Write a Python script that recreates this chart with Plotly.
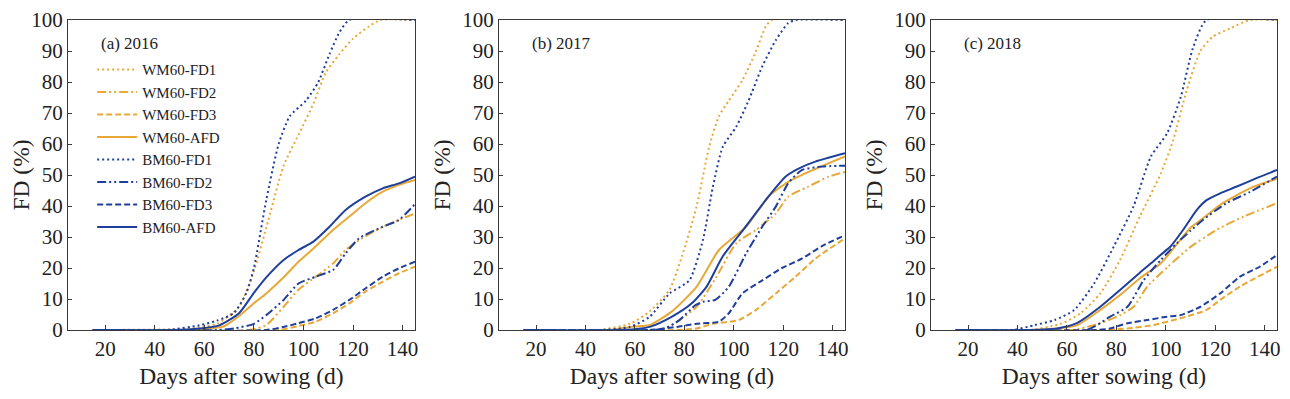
import plotly.graph_objects as go

# ---------------- data ----------------
SERIES = ["WM60-FD1", "WM60-FD2", "WM60-FD3", "WM60-AFD",
          "BM60-FD1", "BM60-FD2", "BM60-FD3", "BM60-AFD"]
PANEL_LABELS = ["(a) 2016", "(b) 2017", "(c) 2018"]
X_TICKS = [20, 40, 60, 80, 100, 120, 140]
Y_TICKS = [0, 10, 20, 30, 40, 50, 60, 70, 80, 90, 100]

# Panel (a) 2016
A_WM_FD1_X = [15, 55, 65, 74, 80, 85, 92, 98, 104, 109, 114.5, 120, 126.5, 131, 145]
A_WM_FD1_Y = [0, 0.5, 2, 7.5, 19, 33, 53, 63, 73, 83, 89, 94, 98, 100, 100]
A_WM_FD2_X = [15, 78, 85, 92, 98, 105, 112, 117, 122.5, 132, 138.5, 145]
A_WM_FD2_Y = [0, 0, 1.6, 7.5, 13, 17.2, 21.5, 25.8, 29, 33.3, 35.5, 37.6]
A_WM_FD3_X = [15, 90, 98, 105, 112, 118.5, 125, 132, 138.5, 145]
A_WM_FD3_Y = [0, 0, 1.3, 2.7, 5.4, 8.6, 12.4, 15.6, 18.3, 20.4]
A_WM_AFD_X = [15, 50, 62, 68, 74, 80, 85, 92, 98, 105, 112, 118.5, 125, 132, 138.5, 145]
A_WM_AFD_Y = [0, 0, 0.5, 1.2, 4.5, 8.6, 11.8, 17, 22, 27, 32.3, 36.6, 40.9, 44.6, 46.8, 48.4]
A_BM_FD1_X = [15, 45, 58, 65, 72, 77, 80, 85, 90, 94.5, 101, 106, 110.5, 114.5, 118.5, 145]
A_BM_FD1_Y = [0, 0, 1.5, 3, 5.5, 12, 20, 42, 60, 69, 74, 80, 89, 96, 100, 100]
A_BM_FD2_X = [15, 65, 72, 80, 85, 92, 98, 105, 112, 117, 122.5, 132, 138.5, 145]
A_BM_FD2_Y = [0, 0, 0.5, 2, 4.8, 9.7, 15, 17.2, 19.4, 24.7, 29.6, 33.3, 35.5, 40.6]
A_BM_FD3_X = [15, 85, 92, 98, 105, 112, 118.5, 125, 132, 138.5, 145]
A_BM_FD3_Y = [0, 0, 1, 2.2, 3.8, 6.5, 9.7, 13.4, 17.2, 19.9, 22]
A_BM_AFD_X = [15, 48, 58, 66, 74, 80, 85, 92, 98, 104, 110.5, 117, 125, 132, 138.5, 145]
A_BM_AFD_Y = [0, 0, 0.5, 1.5, 5.4, 12, 17, 22.6, 25.8, 28.5, 33.3, 38.7, 43, 45.7, 47.3, 49.5]

# Panel (b) 2017
B_WM_FD1_X = [15, 45, 58, 66, 74, 79, 85, 90, 94, 98, 103.5, 109, 113, 115.5, 145]
B_WM_FD1_Y = [0, 0, 2, 6, 13, 23.7, 40, 59, 69, 74, 80.6, 90, 98, 100, 100]
B_WM_FD2_X = [15, 71, 78, 85, 93, 101, 109, 117, 122, 130, 138.5, 145]
B_WM_FD2_Y = [0, 0, 3.2, 7.5, 17.2, 28, 32.3, 37.6, 43, 46.2, 49.5, 51]
B_WM_FD3_X = [15, 76, 85, 91.5, 102, 109, 117, 125, 133, 145]
B_WM_FD3_Y = [0, 0, 0.5, 2, 3.2, 6.5, 11.8, 17.2, 23, 29.6]
B_WM_AFD_X = [15, 50, 58, 66, 75, 85, 94, 105, 114, 122, 132, 145]
B_WM_AFD_Y = [0, 0, 1, 1.6, 6, 14, 25.8, 33.3, 43, 47.8, 51.6, 56]
B_BM_FD1_X = [15, 47, 58, 66, 74, 82, 87.5, 91.5, 95.5, 101, 106, 111.5, 117, 122, 125, 145]
B_BM_FD1_Y = [0, 0, 1, 4.3, 11.8, 16, 29, 46, 59, 65.6, 74, 85, 93.5, 99, 100, 100]
B_BM_FD2_X = [15, 66, 72, 78, 84.5, 88, 92.5, 98, 105, 111.5, 117, 122, 127.5, 135.5, 145]
B_BM_FD2_Y = [0, 0, 0.5, 3.2, 8, 9.2, 9.7, 14, 24.7, 33.3, 39.8, 47.3, 51.6, 52.7, 53]
B_BM_FD3_X = [15, 66, 77, 85, 94, 98, 103.5, 111.5, 119.5, 127.5, 135.5, 145]
B_BM_FD3_Y = [0, 0, 1, 2, 2.7, 5.4, 11.8, 16, 20, 23, 27, 30.6]
B_BM_AFD_X = [15, 55, 66, 75, 83, 89, 95.5, 103.5, 114, 121, 126, 133, 145]
B_BM_AFD_Y = [0, 0, 1, 4.3, 8.6, 14, 23.7, 32, 43, 49.5, 52, 54.3, 57]

# Panel (c) 2018
C_WM_FD1_X = [15, 45, 57.5, 65.5, 73.5, 81.5, 89.5, 98, 103, 108.5, 114, 119, 126, 134, 145]
C_WM_FD1_Y = [0, 0, 2, 5.4, 11.8, 22.6, 36.6, 50.5, 61.3, 77.4, 90, 94.6, 97.3, 100, 100]
C_WM_FD2_X = [15, 62, 73.5, 81.5, 87, 92.5, 101, 109.5, 120.5, 131.5, 145]
C_WM_FD2_Y = [0, 0, 2.2, 4.8, 7.5, 14, 20.5, 26.5, 32.3, 36.6, 40.9]
C_WM_FD3_X = [15, 72, 84.5, 95, 106, 116.5, 122, 130, 145]
C_WM_FD3_Y = [0, 0, 0.5, 1.6, 3.8, 6.5, 9.7, 14, 20.4]
C_WM_AFD_X = [15, 45, 56, 64, 73.5, 81.5, 89.5, 98, 105.5, 110, 115, 123, 134, 145]
C_WM_AFD_Y = [0, 0, 0.5, 1.5, 6.5, 11.3, 16.7, 21.5, 28.7, 33, 36, 40.9, 45.7, 48.8]
C_BM_FD1_X = [15, 38, 47, 55, 63, 71, 79, 87, 94, 100.5, 106, 111, 116.5, 145]
C_BM_FD1_Y = [0, 0, 1.6, 3.2, 6.5, 15, 27, 40, 56, 63.4, 75, 91, 100, 100]
C_BM_FD2_X = [15, 68, 77.5, 84.5, 91, 98, 104.5, 110, 115, 124.5, 134, 145]
C_BM_FD2_Y = [0, 0, 4.3, 7.5, 16, 22.6, 28, 32, 35.5, 40.9, 44.5, 49.5]
C_BM_FD3_X = [15, 72, 77.5, 84.5, 92.5, 100.5, 106, 114, 122, 130, 138, 145]
C_BM_FD3_Y = [0, 0, 0.5, 2.2, 3.2, 4.3, 4.8, 7.5, 11.8, 17.2, 20.4, 24.2]
C_BM_AFD_X = [15, 45, 56, 64, 73.5, 81.5, 89.5, 94, 98, 102, 107, 112.5, 116.5, 122, 128.5, 136.5, 145]
C_BM_AFD_Y = [0, 0, 0.5, 2.2, 7.5, 12.9, 18.5, 21.5, 24.3, 27, 32.3, 38.7, 41.9, 44.1, 46.2, 48.9, 51.6]

PANELS = [
    [(A_WM_FD1_X, A_WM_FD1_Y), (A_WM_FD2_X, A_WM_FD2_Y), (A_WM_FD3_X, A_WM_FD3_Y), (A_WM_AFD_X, A_WM_AFD_Y),
     (A_BM_FD1_X, A_BM_FD1_Y), (A_BM_FD2_X, A_BM_FD2_Y), (A_BM_FD3_X, A_BM_FD3_Y), (A_BM_AFD_X, A_BM_AFD_Y)],
    [(B_WM_FD1_X, B_WM_FD1_Y), (B_WM_FD2_X, B_WM_FD2_Y), (B_WM_FD3_X, B_WM_FD3_Y), (B_WM_AFD_X, B_WM_AFD_Y),
     (B_BM_FD1_X, B_BM_FD1_Y), (B_BM_FD2_X, B_BM_FD2_Y), (B_BM_FD3_X, B_BM_FD3_Y), (B_BM_AFD_X, B_BM_AFD_Y)],
    [(C_WM_FD1_X, C_WM_FD1_Y), (C_WM_FD2_X, C_WM_FD2_Y), (C_WM_FD3_X, C_WM_FD3_Y), (C_WM_AFD_X, C_WM_AFD_Y),
     (C_BM_FD1_X, C_BM_FD1_Y), (C_BM_FD2_X, C_BM_FD2_Y), (C_BM_FD3_X, C_BM_FD3_Y), (C_BM_AFD_X, C_BM_AFD_Y)],
]

# ---------------- style ----------------
ORANGE = "#E8A838"
BLUE = "#1F3F9C"
COLORS = [ORANGE] * 4 + [BLUE] * 4
DASHES = ["2px,3px", "9px,3px,2px,3px,2px,3px", "6px,3px", "solid"] * 2
FONT = "Liberation Serif"
AXC = "#3a3a3a"

# page has an 8px body margin: figure pixel = page pixel - 8
OFF = 8
W, H = 1290 - OFF, 399 - OFF
page_dom = [(68, 415), (499, 845), (931, 1277)]
ML = page_dom[0][0] - OFF
MR = W - (page_dom[2][1] - OFF)
MT = 20 - OFF
MB = H - (330 - OFF)
PW = W - ML - MR
domains = [[(a - OFF - ML) / PW, (b - OFF - ML) / PW] for a, b in page_dom]

fig = go.Figure()
for p, series in enumerate(PANELS):
    xa = "x" if p == 0 else f"x{p+1}"
    ya = "y" if p == 0 else f"y{p+1}"
    for i, (xs, ys) in enumerate(series):
        fig.add_trace(go.Scatter(
            x=xs, y=ys, mode="lines", name=SERIES[i],
            line=dict(color=COLORS[i], dash=DASHES[i], width=2,
                      shape="spline", smoothing=0.6),
            showlegend=(p == 0), xaxis=xa, yaxis=ya,
        ))

layout = dict(
    width=W, height=H,
    margin=dict(l=ML, r=MR, t=MT, b=MB, autoexpand=False),
    paper_bgcolor="white", plot_bgcolor="white",
    font=dict(family=FONT, color="#222", size=20),
    showlegend=True,
    legend=dict(x=0.020, y=0.893, xanchor="left", yanchor="top",
                bgcolor="rgba(0,0,0,0)", font=dict(size=15, family=FONT),
                tracegroupgap=0, itemwidth=40),
)
for p in range(3):
    k = "" if p == 0 else str(p + 1)
    layout[f"xaxis{k}"] = dict(
        domain=domains[p], range=[5, 145], tickvals=X_TICKS,
        ticks="inside", ticklen=5, tickcolor=AXC, tickwidth=1,
        showline=True, linecolor=AXC, linewidth=1.3, mirror=True,
        showgrid=False, zeroline=False, anchor="y" + k,
        tickfont=dict(size=21, family=FONT),
        title=dict(text="Days after sowing (d)", font=dict(size=23.5, family=FONT), standoff=7),
    )
    layout[f"yaxis{k}"] = dict(
        domain=[0, 1], range=[0, 100], tickvals=Y_TICKS,
        ticks="inside", ticklen=4, tickcolor=AXC, tickwidth=1,
        showline=True, linecolor=AXC, linewidth=1.3, mirror=True,
        showgrid=False, zeroline=False, anchor="x" + k,
        tickfont=dict(size=21, family=FONT),
        title=dict(text="FD (%)", font=dict(size=23.5, family=FONT), standoff=4),
    )
fig.update_layout(**layout)

for p, lab in enumerate(PANEL_LABELS):
    k = "" if p == 0 else str(p + 1)
    fig.add_annotation(text=lab, xref=f"x{k} domain", yref=f"y{k} domain",
                       x=0.09, y=0.925, xanchor="left", yanchor="middle",
                       showarrow=False, font=dict(size=17, family=FONT, color="#222"))

fig.write_html("out.html")
